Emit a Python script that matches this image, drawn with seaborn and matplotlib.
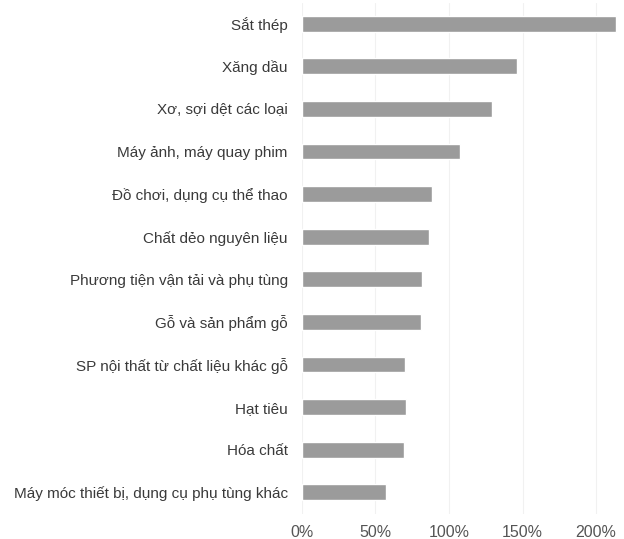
import matplotlib
matplotlib.use("Agg")
import matplotlib.pyplot as plt
from matplotlib.ticker import FuncFormatter
import seaborn as sns
import pandas as pd

categories = [
    "Sắt thép",
    "Xăng dầu",
    "Xơ, sợi dệt các loại",
    "Máy ảnh, máy quay phim",
    "Đồ chơi, dụng cụ thể thao",
    "Chất dẻo nguyên liệu",
    "Phương tiện vận tải và phụ tùng",
    "Gỗ và sản phẩm gỗ",
    "SP nội thất từ chất liệu khác gỗ",
    "Hạt tiêu",
    "Hóa chất",
    "Máy móc thiết bị, dụng cụ phụ tùng khác",
]
growth_pct = [213.5, 146, 129, 107.5, 88.3, 86.7, 82, 80.8, 70.2, 70.6, 69.5, 57]
tick_values = [0, 50, 100, 150, 200]

df = pd.DataFrame({"category": categories, "growth": growth_pct})

sns.set_theme(style="white")
plt.rcParams["font.family"] = ["Liberation Sans", "DejaVu Sans"]

fig = plt.figure(figsize=(6.24, 5.39), dpi=100)
ax = fig.add_axes([301.7 / 624, 1 - 513.5 / 539, 319.5 / 624, 511.0 / 539])

sns.barplot(data=df, x="growth", y="category", order=categories,
            color="#9b9b9b", saturation=1, width=0.37, ax=ax)

ax.set_xlim(0, 217)
ax.set_xticks(tick_values)
ax.xaxis.set_major_formatter(FuncFormatter(lambda v, _: f"{v:.0f}%"))
ax.grid(axis="x", color="#f1f1f1", linewidth=0.8)
ax.set_axisbelow(True)
ax.set_xlabel("")
ax.set_ylabel("")
for s in ax.spines.values():
    s.set_visible(False)
ax.tick_params(axis="y", length=0, pad=10, labelsize=11, labelcolor="#3a3a3a")
ax.tick_params(axis="x", length=0, pad=8, labelsize=11.5, labelcolor="#555555")

fig.savefig("out.png", dpi=100, facecolor="white")
